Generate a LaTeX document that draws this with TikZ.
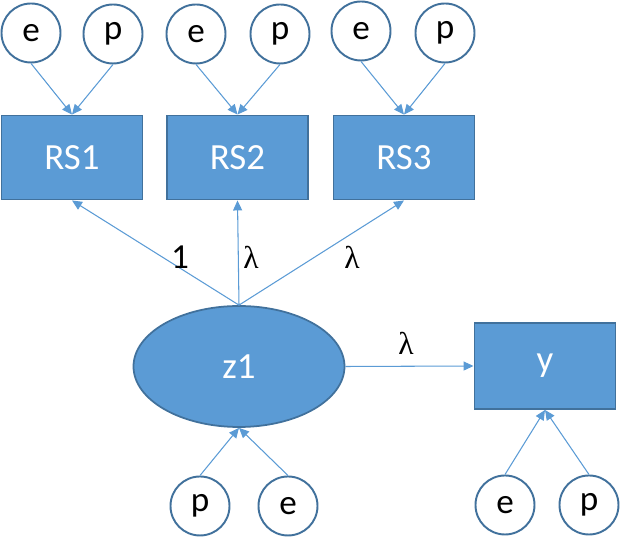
\documentclass[tikz,border=0pt]{standalone}
\usepackage{fontspec}
\setmainfont{Carlito}
\newfontfamily\lamfont{Liberation Serif}
\usetikzlibrary{arrows.meta,shapes.geometric}
\definecolor{fillblue}{HTML}{5B9BD5}
\definecolor{edgeblue}{HTML}{41719C}

\begin{document}
\begin{tikzpicture}[>={Triangle[length=2mm,width=1.8mm]},
    every node/.style={font=\fontsize{20}{24}\selectfont},
    obs/.style={draw=edgeblue, fill=fillblue, line width=1.1pt, text=white, font=\fontsize{21}{25}\selectfont, minimum width=2.82cm, minimum height=1.68cm, inner sep=0pt},
    lat/.style={draw=edgeblue, fill=fillblue, line width=1pt, text=white, font=\fontsize{21}{25}\selectfont, ellipse, minimum width=4.22cm, minimum height=2.42cm, inner sep=0pt},
    err/.style={draw=edgeblue, fill=white, line width=1.1pt, circle, minimum size=1.18cm, inner sep=0pt},
    link/.style={->, draw=fillblue, line width=0.6pt},
    coef/.style={font=\lamfont\fontsize{18}{22}\selectfont}]
                \useasboundingbox (0,0) rectangle (12.4,10.94);

                \node[err] (e1) at (0.62,10.28) {e};
                \node[err] (p1) at (2.26,10.26) {p};
                \node[err] (e2) at (3.92,10.26) {e};
                \node[err] (p2) at (5.60,10.26) {p};
                \node[err] (e3) at (7.22,10.32) {e};
                \node[err] (p3) at (8.90,10.28) {p};

                \node[obs] (RS1) at (1.44,7.79) {RS1};
                \node[obs] (RS2) at (4.75,7.79) {RS2};
                \node[obs] (RS3) at (8.08,7.79) {RS3};

                \node[lat] (z1) at (4.78,3.61) {z1};
                \node[obs, minimum height=1.72cm] (y) at (10.90,3.62) {y};

                \node[err] (pz) at (4.00,0.82) {p};
                \node[err] (ez) at (5.76,0.82) {e};
                \node[err] (ey) at (10.10,0.84) {e};
                \node[err] (py) at (11.78,0.84) {p};

                % residual arrows
                \draw[link] (e1.south) -- (RS1.north);
                \draw[link] (p1.south) -- (RS1.north);
                \draw[link] (e2.south) -- (RS2.north);
                \draw[link] (p2.south) -- (RS2.north);
                \draw[link] (e3.south) -- (RS3.north);
                \draw[link] (p3.south) -- (RS3.north);
                \draw[link] (pz.north) -- (z1.south);
                \draw[link] (ez.north) -- (z1.south);
                \draw[link] (ey.north) -- (y.south);
                \draw[link] (py.north) -- (y.south);

                % loadings
                \draw[link] (z1.north) -- (RS1.south);
                \node (l1) at (3.60,5.80) {1};
                \draw[link] (z1.north) -- (RS2.south);
                \node[coef] (l2) at (5.02,5.80) {λ};
                \draw[link] (z1.north) -- (RS3.south);
                \node[coef] (l3) at (7.04,5.80) {λ};

                \draw[link] (z1.east) -- (y.west);
                \node[coef] (l4) at (8.12,4.08) {λ};
            \end{tikzpicture}
\end{document}
